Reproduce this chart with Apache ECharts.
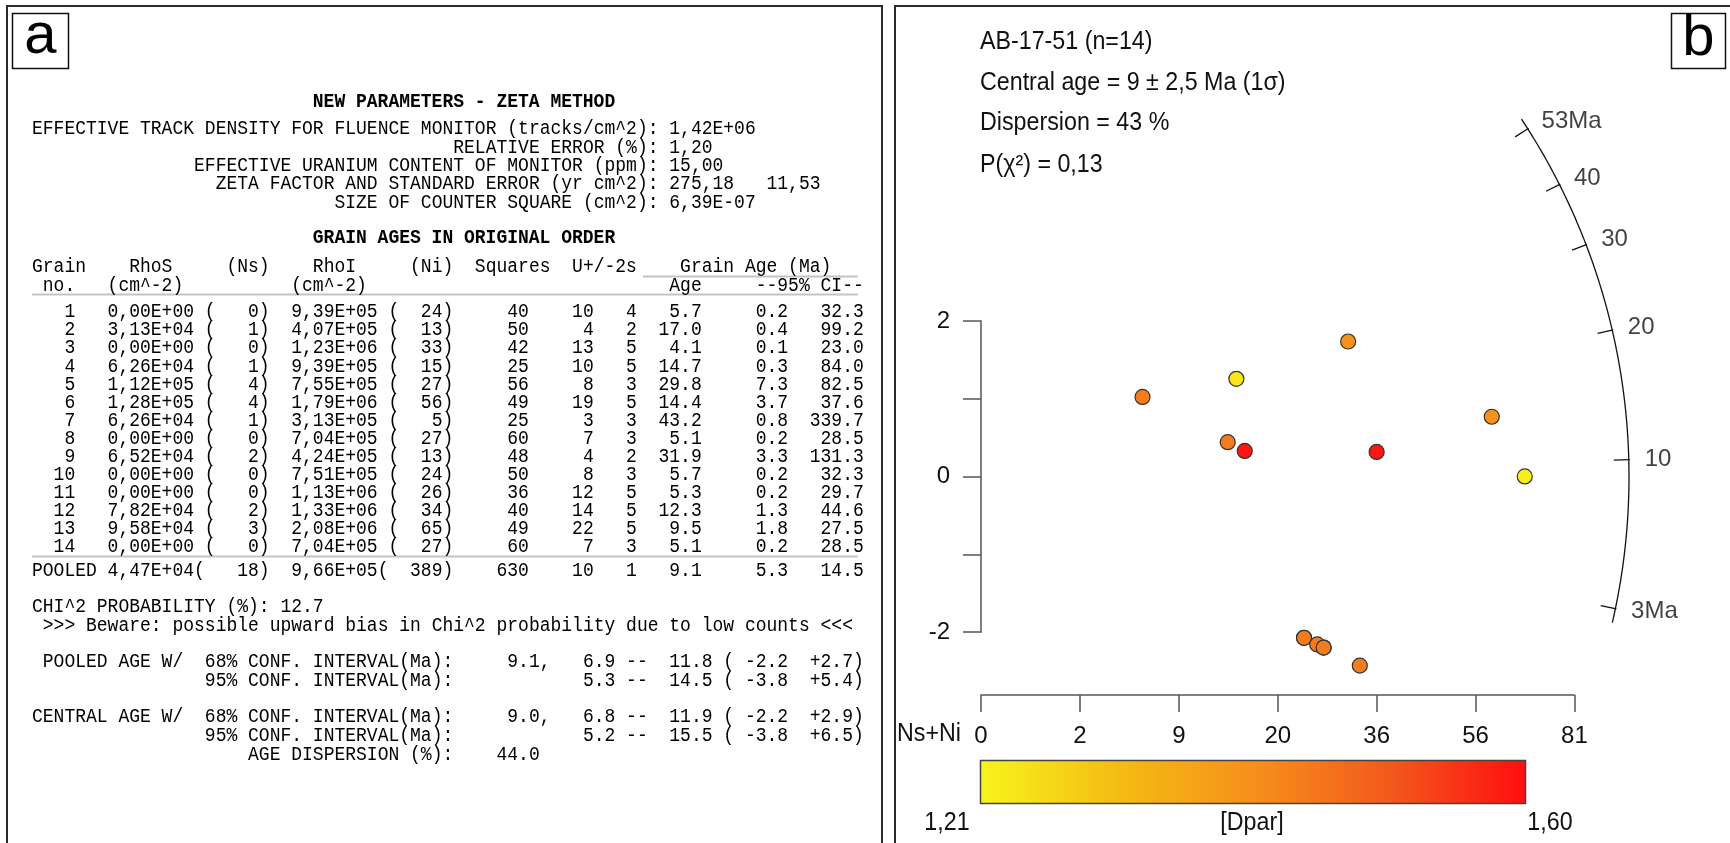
<!DOCTYPE html>
<html>
<head>
<meta charset="utf-8">
<script src="https://cdn.jsdelivr.net/npm/echarts@6/dist/echarts.min.js"></script>
<style>
html, body { margin: 0; padding: 0; background: #ffffff; }
#chart { width: 1730px; height: 843px; }
</style>
</head>
<body>
<div id="chart"></div>
<script>
// ---- Grain data (BINOMFIT output) ----
const grainNo  = [1, 2, 3, 4, 5, 6, 7, 8, 9, 10, 11, 12, 13, 14];
const rhoS     = ['0,00E+00','3,13E+04','0,00E+00','6,26E+04','1,12E+05','1,28E+05','6,26E+04','0,00E+00','6,52E+04','0,00E+00','0,00E+00','7,82E+04','9,58E+04','0,00E+00'];
const Ns       = [0, 1, 0, 1, 4, 4, 1, 0, 2, 0, 0, 2, 3, 0];
const rhoI     = ['9,39E+05','4,07E+05','1,23E+06','9,39E+05','7,55E+05','1,79E+06','3,13E+05','7,04E+05','4,24E+05','7,51E+05','1,13E+06','1,33E+06','2,08E+06','7,04E+05'];
const Ni       = [24, 13, 33, 15, 27, 56, 5, 27, 13, 24, 26, 34, 65, 27];
const squares  = [40, 50, 42, 25, 56, 49, 25, 60, 48, 50, 36, 40, 49, 60];
const uPpm     = [10, 4, 13, 10, 8, 19, 3, 7, 4, 8, 12, 14, 22, 7];
const u2s      = [4, 2, 5, 5, 3, 5, 3, 3, 2, 3, 5, 5, 5, 3];
const grainAge = [5.7, 17.0, 4.1, 14.7, 29.8, 14.4, 43.2, 5.1, 31.9, 5.7, 5.3, 12.3, 9.5, 5.1];
const ciLow    = [0.2, 0.4, 0.1, 0.3, 7.3, 3.7, 0.8, 0.2, 3.3, 0.2, 0.2, 1.3, 1.8, 0.2];
const ciHigh   = [32.3, 99.2, 23.0, 84.0, 82.5, 37.6, 339.7, 28.5, 131.3, 32.3, 29.7, 44.6, 27.5, 28.5];
// Etch-pit diameter per grain (colour of each point)
const dpar     = [1.44, 1.44, 1.44, 1.59, 1.40, 1.40, 1.44, 1.44, 1.235, 1.44, 1.44, 1.59, 1.22, 1.44];

// Pooled row
const pooled = { rhoS: '4,47E+04', Ns: 18, rhoI: '9,66E+05', Ni: 389, squares: 630, u: 10, u2s: 1, age: 9.1, lo: 5.3, hi: 14.5 };

// Zeta calibration parameters
const paramLabels = [
  'EFFECTIVE TRACK DENSITY FOR FLUENCE MONITOR (tracks/cm^2):',
  'RELATIVE ERROR (%):',
  'EFFECTIVE URANIUM CONTENT OF MONITOR (ppm):',
  'ZETA FACTOR AND STANDARD ERROR (yr cm^2):',
  'SIZE OF COUNTER SQUARE (cm^2):'
];
const paramValues = ['1,42E+06', '1,20', '15,00', '275,18   11,53', '6,39E-07'];
const zeta = 275.18, rhoD = 1.42e6, geom = 0.5, lambdaD = 1.55125e-10;

// Summary statistics
const centralAge = 9.0;
const sampleLines = ['AB-17-51 (n=14)', 'Central age = 9 \u00b1 2,5 Ma (1\u03c3)', 'Dispersion = 43 %', 'P(\u03c7\u00b2) = 0,13'];

// Radial scale
const ageTicks      = [3, 10, 20, 30, 40, 53];
const ageTickLabels = ['3Ma', '10', '20', '30', '40', '53Ma'];
const countLabels   = ['0', '2', '9', '20', '36', '56', '81'];
const yLabelValues  = [-2, 0, 2];
const dparRange     = [1.21, 1.60];
const dparLabels    = ['1,21', '[Dpar]', '1,60'];
const dparColors    = ['#f8f41e', '#f4bd12', '#f6901b', '#f3591d', '#ff0e0e'];

// ---- layout ----
const X0 = 981, Y0 = 476.6;     // pixel position of the radial origin
const SX = 32.97, SY = 77.8;    // pixels per unit (precision / standardised estimate)
const ARC_R = 648;              // arc radius in pixels
const MONO = '"Liberation Mono", "DejaVu Sans Mono", monospace';
const SANS = '"Liberation Sans", Arial, sans-serif';
const CW = 10.8, TX = 32;       // monospaced character width and left margin
const MONO_SIZE = 20, MONO_SX = CW / (0.6 * 20);

function pad(v, w) { let s = String(v); while (s.length < w) s = ' ' + s; return s; }
function placeAt(items) {
  let s = '';
  items.forEach(([col, t]) => { while (s.length < col) s += ' '; s += t; });
  return s;
}

// ---- left panel text lines ----
const textEls = [];
function monoLine(str, y, bold) {
  textEls.push({
    type: 'text', x: TX, y: y, scaleX: MONO_SX,
    style: { text: str, font: (bold ? 'bold ' : '') + MONO_SIZE + 'px ' + MONO, fill: '#000',
             textVerticalAlign: 'middle', verticalAlign: 'middle' }
  });
}
function monoCentered(str, cx, y) {
  textEls.push({
    type: 'text', x: cx, y: y, scaleX: MONO_SX,
    style: { text: str, font: 'bold ' + MONO_SIZE + 'px ' + MONO, fill: '#000',
             textAlign: 'center', align: 'center', textVerticalAlign: 'middle', verticalAlign: 'middle' }
  });
}

monoCentered('NEW PARAMETERS - ZETA METHOD', TX + 40 * CW, 101.5);
const paramY = [129, 147.5, 165.5, 184, 202.5];
paramLabels.forEach((lab, i) => monoLine(pad(lab, 58) + ' ' + paramValues[i], paramY[i]));
monoCentered('GRAIN AGES IN ORIGINAL ORDER', TX + 40 * CW, 238);

monoLine(placeAt([[0, 'Grain'], [9, 'RhoS'], [18, '(Ns)'], [26, 'RhoI'], [35, '(Ni)'], [41, 'Squares'], [50, 'U+/-2s'], [60, 'Grain Age (Ma)']]), 267);
monoLine(placeAt([[1, 'no.'], [7, '(cm^-2)'], [24, '(cm^-2)'], [59, 'Age'], [67, '--95% CI--']]), 285.5);

const rowY0 = 312, rowDY = 18.08;
grainNo.forEach((g, i) => {
  const s = pad(g, 4) + '   ' + rhoS[i] + ' (' + pad(Ns[i], 4) + ')' + '  ' + rhoI[i] + ' (' + pad(Ni[i], 4) + ')' +
            pad(squares[i], 7) + pad(uPpm[i], 6) + pad(u2s[i], 4) +
            pad(grainAge[i].toFixed(1), 6) + pad(ciLow[i].toFixed(1), 8) + pad(ciHigh[i].toFixed(1), 7);
  monoLine(s, rowY0 + i * rowDY);
});
monoLine('POOLED ' + pooled.rhoS + '(' + pad(pooled.Ns, 5) + ')' + '  ' + pooled.rhoI + '(' + pad(pooled.Ni, 5) + ')' +
         pad(pooled.squares, 7) + pad(pooled.u, 6) + pad(pooled.u2s, 4) +
         pad(pooled.age.toFixed(1), 6) + pad(pooled.lo.toFixed(1), 8) + pad(pooled.hi.toFixed(1), 7), 571);

monoLine('CHI^2 PROBABILITY (%): 12.7', 607);
monoLine(' >>> Beware: possible upward bias in Chi^2 probability due to low counts <<<', 625.5);
monoLine(placeAt([[1, 'POOLED AGE W/'], [16, '68% CONF. INTERVAL(Ma):'], [44, '9.1,'], [51, '6.9'], [55, '--'], [59, '11.8'], [64, '('], [66, '-2.2'], [72, '+2.7)']]), 662);
monoLine(placeAt([[16, '95% CONF. INTERVAL(Ma):'], [51, '5.3'], [55, '--'], [59, '14.5'], [64, '('], [66, '-3.8'], [72, '+5.4)']]), 680.5);
monoLine(placeAt([[0, 'CENTRAL AGE W/'], [16, '68% CONF. INTERVAL(Ma):'], [44, '9.0,'], [51, '6.8'], [55, '--'], [59, '11.9'], [64, '('], [66, '-2.2'], [72, '+2.9)']]), 717);
monoLine(placeAt([[16, '95% CONF. INTERVAL(Ma):'], [51, '5.2'], [55, '--'], [59, '15.5'], [64, '('], [66, '-3.8'], [72, '+6.5)']]), 735.5);
monoLine(placeAt([[20, 'AGE DISPERSION (%):'], [43, '44.0']]), 754.5);

// table rules
function rule(x1, x2, y) {
  return { type: 'line', shape: { x1: x1, y1: y, x2: x2, y2: y }, style: { stroke: '#c4c4c4', lineWidth: 2 } };
}

// ---- radial transform ----
function ratioFromAge(t) { return (Math.exp(lambdaD * t * 1e6) - 1) / (lambdaD * zeta * geom * rhoD); }
function zFromAge(t) { return Math.atan(Math.sqrt(ratioFromAge(t))); }
const z0 = zFromAge(centralAge);

const points = grainNo.map((g, i) => {
  const n = Ns[i] + Ni[i];
  const x = 2 * Math.sqrt(n);
  const z = Math.asin(Math.sqrt(Ns[i] / n));
  return [x, (z - z0) * x, dpar[i]];
});

// pixel-space angle of an age line through the origin
function ageAngle(t) { return Math.atan((zFromAge(t) - z0) * SY / SX); }
function polarToData(r, th) { return [r * Math.cos(th) / SX, r * Math.sin(th) / SY]; }

const thMin = ageAngle(ageTicks[0]) - 0.022;
const thMax = ageAngle(ageTicks[ageTicks.length - 1]) + 0.018;
const arc = [];
for (let k = 0; k <= 120; k++) {
  const th = thMin + (thMax - thMin) * k / 120;
  arc.push(polarToData(ARC_R, th));
}
const tickSegs = ageTicks.map(t => {
  const th = ageAngle(t);
  return { coords: [polarToData(ARC_R - 15, th), polarToData(ARC_R + 1, th)] };
});
const tickLabelPts = ageTicks.map((t, i) => {
  const th = ageAngle(t);
  return { value: polarToData(ARC_R + 14, th), name: ageTickLabels[i] };
});

// ---- chart ----
const chart = echarts.init(document.getElementById('chart'), null, { renderer: 'canvas' });

const gradStops = dparColors.map((c, i) => ({ offset: i / (dparColors.length - 1), color: c }));

const graphics = [
  // panel frames
  { type: 'rect', shape: { x: 7, y: 6, width: 875, height: 900 }, style: { fill: 'none', stroke: '#2a2a2a', lineWidth: 2 } },
  { type: 'rect', shape: { x: 895, y: 6, width: 900, height: 900 }, style: { fill: 'none', stroke: '#2a2a2a', lineWidth: 2 } },
  // panel letters
  { type: 'rect', shape: { x: 12.5, y: 13.5, width: 56, height: 55 }, style: { fill: '#fff', stroke: '#111', lineWidth: 1.5 } },
  { type: 'text', x: 40.5, y: 37, style: { text: 'a', font: '58px ' + SANS, fill: '#000', textAlign: 'center', align: 'center', textVerticalAlign: 'middle', verticalAlign: 'middle' } },
  { type: 'rect', shape: { x: 1671.5, y: 13.5, width: 54, height: 55 }, style: { fill: '#fff', stroke: '#111', lineWidth: 1.5 } },
  { type: 'text', x: 1698.5, y: 39, style: { text: 'b', font: '58px ' + SANS, fill: '#000', textAlign: 'center', align: 'center', textVerticalAlign: 'middle', verticalAlign: 'middle' } },
  rule(32, 858, 294.5),
  rule(643, 858, 276.5),
  rule(32, 858, 556.5)
].concat(textEls);

// sample statistics text
const statY = [42, 82.7, 123.6, 165.5];
sampleLines.forEach((s, i) => {
  graphics.push({ type: 'text', x: 980, y: statY[i], scaleX: 0.93,
    style: { text: s, font: '25px ' + SANS, fill: '#111', textVerticalAlign: 'middle', verticalAlign: 'middle' } });
});

// colour bar for Dpar
graphics.push({
  type: 'rect', shape: { x: 980.5, y: 760.5, width: 545, height: 43 },
  style: { fill: new echarts.graphic.LinearGradient(0, 0, 1, 0, gradStops), stroke: '#444', lineWidth: 1.5 }
});
const dparLabelX = [947, 1252, 1550];
dparLabels.forEach((t, i) => {
  graphics.push({ type: 'text', x: dparLabelX[i], y: 823, scaleX: 0.93,
    style: { text: t, font: '25px ' + SANS, fill: '#111', textAlign: 'center', align: 'center', textVerticalAlign: 'middle', verticalAlign: 'middle' } });
});
graphics.push({ type: 'text', x: 961, y: 734, scaleX: 0.93,
  style: { text: 'Ns+Ni', font: '25px ' + SANS, fill: '#111', textAlign: 'right', align: 'right', textVerticalAlign: 'middle', verticalAlign: 'middle' } });

const option = {
  animation: false,
  backgroundColor: '#ffffff',
  graphic: { elements: graphics },
  grid: [
    // standardised-estimate scale
    { left: X0, top: Y0 - 2 * SY, width: 10, height: 4 * SY },
    // precision (count) scale
    { left: X0, top: 600, width: 18 * SX, height: 95 },
    // data plane
    { left: X0, top: Y0 - 5 * SY, width: 21 * SX, height: 8 * SY }
  ],
  xAxis: [
    { gridIndex: 0, type: 'value', min: 0, max: 1, show: false },
    { gridIndex: 1, type: 'value', min: 0, max: 18, interval: 3, position: 'bottom',
      axisLine: { show: true, lineStyle: { color: '#555', width: 1.5 } },
      axisTick: { show: true, inside: false, length: 17, lineStyle: { color: '#555', width: 1.5 } },
      axisLabel: { show: true, margin: 29, fontSize: 24, fontFamily: SANS, color: '#111', showMinLabel: true, showMaxLabel: true,
                   formatter: v => countLabels[Math.round(v / 3)] },
      splitLine: { show: false } },
    { gridIndex: 2, type: 'value', min: 0, max: 21, show: false }
  ],
  yAxis: [
    { gridIndex: 0, type: 'value', min: -2, max: 2, interval: 1,
      axisLine: { show: true, lineStyle: { color: '#555', width: 1.5 } },
      axisTick: { show: true, inside: false, length: 18, lineStyle: { color: '#555', width: 1.5 } },
      axisLabel: { show: true, margin: 31, fontSize: 24, fontFamily: SANS, color: '#111', showMinLabel: true, showMaxLabel: true,
                   formatter: v => (yLabelValues.indexOf(v) >= 0 ? String(v) : '') },
      splitLine: { show: false } },
    { gridIndex: 1, type: 'value', min: 0, max: 1, show: false },
    { gridIndex: 2, type: 'value', min: -3, max: 5, show: false }
  ],
  visualMap: {
    type: 'continuous', show: false, seriesIndex: 0, dimension: 2,
    min: dparRange[0], max: dparRange[1], inRange: { color: dparColors }
  },
  series: [
    {
      name: 'grains', type: 'scatter', xAxisIndex: 2, yAxisIndex: 2,
      data: points, symbol: 'circle', symbolSize: 15, clip: false,
      itemStyle: { borderColor: '#333', borderWidth: 1.2, opacity: 1 },
      z: 5
    },
    {
      name: 'age arc', type: 'line', xAxisIndex: 2, yAxisIndex: 2, data: arc,
      showSymbol: false, smooth: false, clip: false,
      lineStyle: { color: '#111', width: 1.3 }, silent: true
    },
    {
      name: 'age ticks', type: 'lines', coordinateSystem: 'cartesian2d', xAxisIndex: 2, yAxisIndex: 2,
      data: tickSegs, lineStyle: { color: '#111', width: 1.3, opacity: 1 }, silent: true
    },
    {
      name: 'age labels', type: 'scatter', xAxisIndex: 2, yAxisIndex: 2, data: tickLabelPts,
      symbolSize: 0, clip: false, silent: true,
      label: { show: true, position: 'right', distance: 2, formatter: p => p.name,
               fontSize: 24, fontFamily: SANS, color: '#111' }
    }
  ]
};

chart.setOption(option);
</script>
</body>
</html>
